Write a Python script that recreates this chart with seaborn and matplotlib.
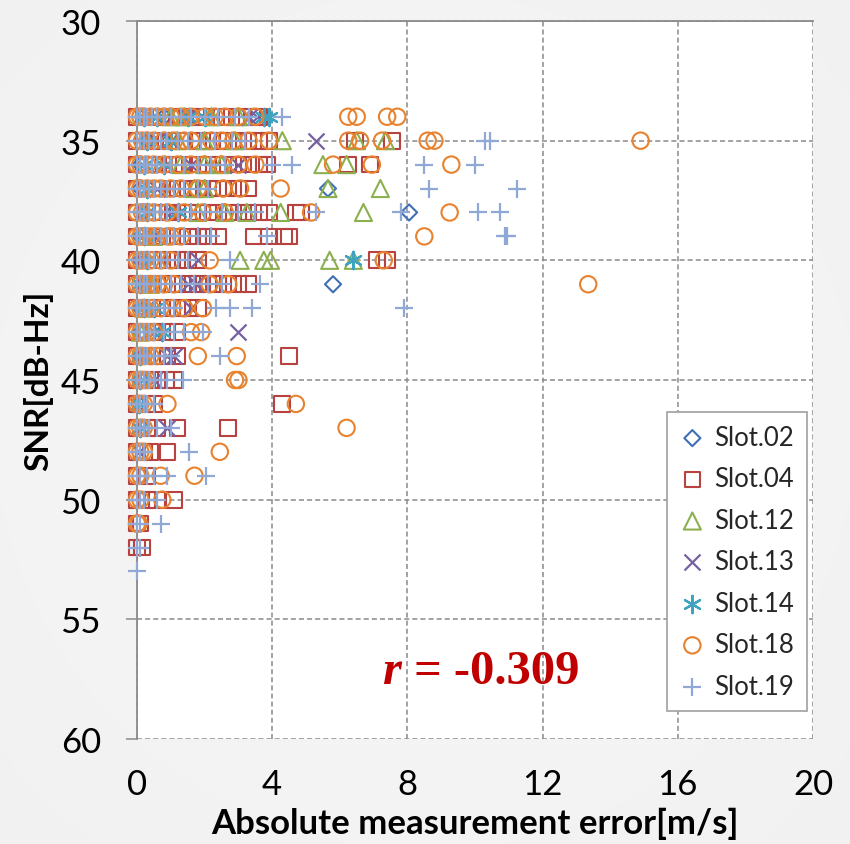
import numpy as np
import pandas as pd
import matplotlib
matplotlib.use("Agg")
import matplotlib.pyplot as plt
import seaborn as sns

# Absolute velocity measurement error [m/s] grouped by SNR [dB-Hz], one dict per slot
slot02 = {
    34: [0.2, 0.8], 35: [0.3], 36: [0.1], 37: [0.1, 5.65], 38: [0.2, 8.05],
    39: [0.1], 40: [0.1], 41: [0.2, 5.8], 42: [0.1], 43: [0.1], 44: [0.1],
    45: [0.1], 46: [0.05],
}
slot04 = {
    34: [0.0, 0.2, 0.4, 0.7, 1.0, 1.3, 1.6, 1.9, 2.2, 2.5, 2.8, 3.1, 3.4, 3.6],
    35: [0.0, 0.2, 0.4, 0.7, 1.0, 1.4, 1.8, 2.1, 2.4, 2.7, 3.0, 3.3, 3.6, 3.9, 6.45, 7.55],
    36: [0.0, 0.2, 0.5, 0.8, 1.1, 1.4, 1.8, 2.1, 2.4, 2.7, 3.0, 3.3, 3.6, 3.85, 6.25, 6.9],
    37: [0.0, 0.3, 0.6, 0.9, 1.2, 1.5, 1.8, 2.1, 2.4, 2.7, 3.0, 3.3],
    38: [0.0, 0.3, 0.6, 0.9, 1.2, 1.5, 1.8, 2.1, 2.4, 2.7, 3.0, 3.3, 3.6, 3.9, 4.7, 4.85],
    39: [0.0, 0.3, 0.6, 0.9, 1.2, 1.5, 1.8, 2.1, 2.4, 3.45, 3.9, 4.35, 4.5],
    40: [0.0, 0.3, 0.6, 0.9, 1.2, 1.5, 1.8, 7.1, 7.4],
    41: [0.0, 0.3, 0.6, 0.9, 1.2, 1.5, 1.8, 2.1, 2.4, 2.7, 3.0, 3.3],
    42: [0.0, 0.3, 0.6, 0.9, 1.2, 1.5, 1.8],
    43: [0.0, 0.3, 0.6, 0.9, 1.2],
    44: [0.0, 0.3, 0.6, 0.9, 1.2, 4.5],
    45: [0.0, 0.3, 0.6, 0.85, 1.1],
    46: [0.0, 0.3, 0.5, 4.3],
    47: [0.0, 0.3, 0.6, 1.2, 2.7],
    48: [0.0, 0.2, 0.4, 0.9],
    49: [0.0, 0.3],
    50: [0.0, 0.3, 0.6, 1.1],
    51: [0.0, 0.1],
    52: [0.0, 0.15],
}
slot12 = {
    34: [1.0, 1.4, 2.2, 3.0],
    35: [1.2, 2.0, 2.9, 4.3, 6.5, 7.35],
    36: [1.3, 2.0, 2.5, 5.5, 6.2],
    37: [1.7, 2.0, 5.65, 7.2],
    38: [1.8, 2.6, 3.25, 4.25, 6.7],
    39: [0.5],
    40: [3.05, 3.75, 3.95, 5.7, 6.4],
    41: [0.4], 42: [0.2], 43: [0.1],
}
slot13 = {
    34: [1.5, 3.3, 3.55], 35: [1.0, 5.3], 36: [1.6, 3.0], 37: [0.6], 38: [1.0],
    39: [0.5], 40: [1.8], 41: [1.5, 1.75], 42: [0.3, 1.6], 43: [0.5, 3.0],
    44: [0.9, 1.1], 45: [0.5], 46: [0.1], 47: [0.9], 48: [0.05],
}
slot14 = {
    34: [0.2, 0.6, 1.5, 2.0, 3.75, 3.9], 35: [0.3, 1.0], 36: [0.2, 0.8], 37: [0.3],
    38: [0.3, 1.2], 39: [0.2], 40: [0.3, 6.4], 41: [0.1], 42: [0.2, 0.5],
    43: [0.75], 44: [0.1], 45: [0.1], 46: [0.05], 47: [0.1],
}
slot18 = {
    34: [0.0, 0.1, 0.2, 0.4, 0.6, 0.8, 1.0, 1.3, 1.6, 2.0, 2.3, 2.6, 3.0, 3.5, 6.25, 6.5, 7.4, 7.7],
    35: [0.0, 0.15, 0.3, 0.5, 0.8, 1.1, 1.4, 1.6, 2.2, 2.5, 2.85, 3.3, 3.9, 6.25, 6.6, 7.25, 8.6, 8.8, 14.9],
    36: [0.0, 0.1, 0.3, 0.5, 0.8, 1.2, 1.6, 2.0, 2.5, 3.0, 3.5, 5.8, 6.95, 9.3],
    37: [0.0, 0.1, 0.3, 0.5, 0.7, 1.0, 1.3, 1.8, 2.55, 3.05, 4.25],
    38: [0.0, 0.15, 0.3, 0.5, 0.9, 1.4, 1.95, 2.6, 5.15, 9.25],
    39: [0.0, 0.1, 0.2, 0.4, 0.6, 0.9, 1.0, 1.3, 8.5],
    40: [0.0, 0.1, 0.2, 0.4, 0.7, 1.0, 2.15, 7.3],
    41: [0.0, 0.1, 0.2, 0.4, 0.6, 0.8, 1.1, 2.15, 2.7, 13.35],
    42: [0.0, 0.1, 0.2, 0.4, 0.7, 1.05, 1.4, 1.95],
    43: [0.0, 0.1, 0.2, 0.3, 0.5, 1.6, 1.9],
    44: [0.0, 0.1, 0.2, 0.4, 0.6, 1.8, 2.95],
    45: [0.0, 0.1, 0.2, 0.3, 2.9, 3.0],
    46: [0.0, 0.1, 0.2, 0.9, 4.7],
    47: [0.0, 0.1, 0.2, 6.2],
    48: [0.0, 0.1, 0.2, 2.45],
    49: [0.0, 0.1, 0.7, 1.7],
    50: [0.0, 0.1, 0.75],
    51: [0.0, 0.05],
}
slot19 = {
    34: [0.0, 0.1, 0.2, 0.3, 0.45, 0.6, 0.8, 1.0, 1.3, 1.6, 2.0, 2.4, 2.9, 3.3, 4.3],
    35: [0.0, 0.1, 0.2, 0.35, 0.5, 0.7, 0.9, 1.2, 1.5, 1.9, 2.3, 2.8, 3.2, 10.3, 10.45],
    36: [0.0, 0.1, 0.2, 0.3, 0.45, 0.6, 0.8, 1.0, 1.4, 1.8, 2.2, 2.6, 4.0, 4.6, 8.5, 10.0],
    37: [0.0, 0.1, 0.2, 0.35, 0.5, 0.7, 0.9, 1.1, 1.4, 1.8, 2.1, 8.65, 11.25],
    38: [0.0, 0.1, 0.2, 0.35, 0.5, 0.7, 0.9, 1.2, 1.6, 2.0, 2.5, 3.0, 3.5, 5.3, 7.8, 10.1, 10.75],
    39: [0.0, 0.1, 0.2, 0.3, 0.5, 0.7, 0.9, 1.1, 1.4, 1.8, 2.2, 3.85, 10.9, 10.95],
    40: [0.0, 0.1, 0.2, 0.35, 0.5, 0.7, 0.9, 1.2, 1.5, 2.75],
    41: [0.0, 0.1, 0.2, 0.3, 0.5, 0.7, 1.0, 1.3, 1.7, 2.1, 2.5, 3.65],
    42: [0.0, 0.1, 0.2, 0.35, 0.5, 0.8, 1.1, 2.35, 2.75, 3.4, 7.9],
    43: [0.0, 0.1, 0.2, 0.35, 0.5, 0.8, 1.1, 1.4, 1.95],
    44: [0.0, 0.1, 0.2, 0.3, 0.5, 0.8, 1.0, 2.45],
    45: [0.0, 0.1, 0.2, 0.35, 0.5, 0.7, 0.9, 1.35],
    46: [0.0, 0.1, 0.2, 0.3, 0.5],
    47: [0.0, 0.1, 0.2, 0.35, 0.6, 1.0],
    48: [0.0, 0.1, 0.2, 1.55],
    49: [0.0, 0.1, 0.3, 0.5, 0.9, 2.05],
    50: [0.0, 0.1, 0.2, 0.6],
    51: [0.0, 0.1, 0.7],
    52: [0.0, 0.1],
    53: [0.0],
}

slot_names = ["Slot.02", "Slot.04", "Slot.12", "Slot.13", "Slot.14", "Slot.18", "Slot.19"]
slot_tables = [slot02, slot04, slot12, slot13, slot14, slot18, slot19]
x_ticks = [0, 4, 8, 12, 16, 20]
y_ticks = [30, 35, 40, 45, 50, 55, 60]
r_value = -0.309

# Marker styling per slot: (marker, colour, marker size in pt, line width)
styles = [
    ("D", "#3F6FB5", 8.2, 1.5),
    ("s", "#B8423F", 11.3, 1.5),
    ("^", "#8DB04E", 12.3, 1.5),
    ("x", "#7660A0", 11.5, 1.6),
    ((6, 2, 0), "#3EA3BF", 12.5, 1.6),
    ("o", "#E8822E", 11.8, 1.5),
    ("+", "#8FA8D5", 13.0, 1.6),
]


def to_frame(rows, label):
    recs = [(snr, err) for snr, errs in rows.items() for err in errs]
    return pd.DataFrame(recs, columns=["snr", "err"]).assign(slot=label)


frames = [to_frame(t, n) for t, n in zip(slot_tables, slot_names)]

sns.set_theme(style="white")
plt.rcParams["font.family"] = ["Lato", "DejaVu Sans"]

fig = plt.figure(figsize=(8.5, 8.45), dpi=100, facecolor="#F1F1F1")

# soft grey backdrop behind the plot area, a touch lighter towards the middle
bg = fig.add_axes([0, 0, 1, 1], zorder=-10)
yy, xx = np.mgrid[-1:1:200j, -1:1:200j]
rad = np.clip(np.sqrt(xx ** 2 + yy ** 2) / 1.42, 0, 1)
bg.imshow(0.965 - 0.022 * rad, cmap="gray", vmin=0, vmax=1,
          extent=[0, 1, 0, 1], aspect="auto", interpolation="bilinear")
bg.set_axis_off()

ax = fig.add_axes([137 / 850, 1 - 740 / 845, 676 / 850, 718 / 845])
ax.set_facecolor("white")

for df, name, (mk, col, ms, lw) in zip(frames, slot_names, styles):
    kws = dict(marker=mk, s=ms ** 2, color=col, linewidth=lw, clip_on=False,
               label=name, ax=ax, zorder=3, legend=False)
    if mk in ("D", "s", "^", "o"):
        kws.update(facecolor="none", edgecolor=col)
    sns.scatterplot(data=df, x="err", y="snr", **kws)

ax.set_xlim(0, 20)
ax.set_ylim(60, 30)
ax.set_xticks(x_ticks)
ax.set_yticks(y_ticks)

grid_col = "#8A8A8A"
ax.set_axisbelow(True)
ax.grid(True, color=grid_col, linestyle=(0, (3.3, 2.0)), linewidth=1.1)
for side in ("right", "bottom"):
    ax.spines[side].set_visible(False)
for side in ("left", "top"):
    ax.spines[side].set_color(grid_col)
    ax.spines[side].set_linewidth(1.3)

ax.tick_params(axis="y", left=True, length=8, width=1.1, color=grid_col, pad=18,
               labelsize=25, labelcolor="black")
ax.tick_params(axis="x", bottom=False, length=0, pad=21, labelsize=25, labelcolor="black")

ax.set_xlabel("Absolute measurement error[m/s]", fontsize=25, fontweight="bold", color="black")
ax.set_ylabel("SNR[dB-Hz]", fontsize=24, fontweight="bold", color="black")
ax.xaxis.set_label_coords(0.5, -0.095)
ax.yaxis.set_label_coords(-0.124, 0.5)

leg = ax.legend(loc="upper right", bbox_to_anchor=(0.991, 0.4554), borderaxespad=0,
                frameon=True, fancybox=False, framealpha=1, edgecolor="#A0A0A0",
                fontsize=18.5, labelspacing=0.64, handlelength=1.0, handletextpad=0.35,
                borderpad=0.5, scatterpoints=1)
leg.get_frame().set_linewidth(1.2)
leg.set_zorder(5)

t = ax.text(7.28, 58.08, "r", fontfamily=["Liberation Serif", "DejaVu Serif"],
            fontstyle="italic", fontweight="bold", fontsize=35, color="#C00000",
            va="bottom", zorder=6)
ax.annotate(f" = {r_value:.3f}", xy=(1, 0), xycoords=t, va="bottom",
            fontfamily=["Liberation Serif", "DejaVu Serif"], fontweight="bold",
            fontsize=35, color="#C00000", zorder=6)

fig.savefig("out.png", dpi=100, facecolor=fig.get_facecolor())
